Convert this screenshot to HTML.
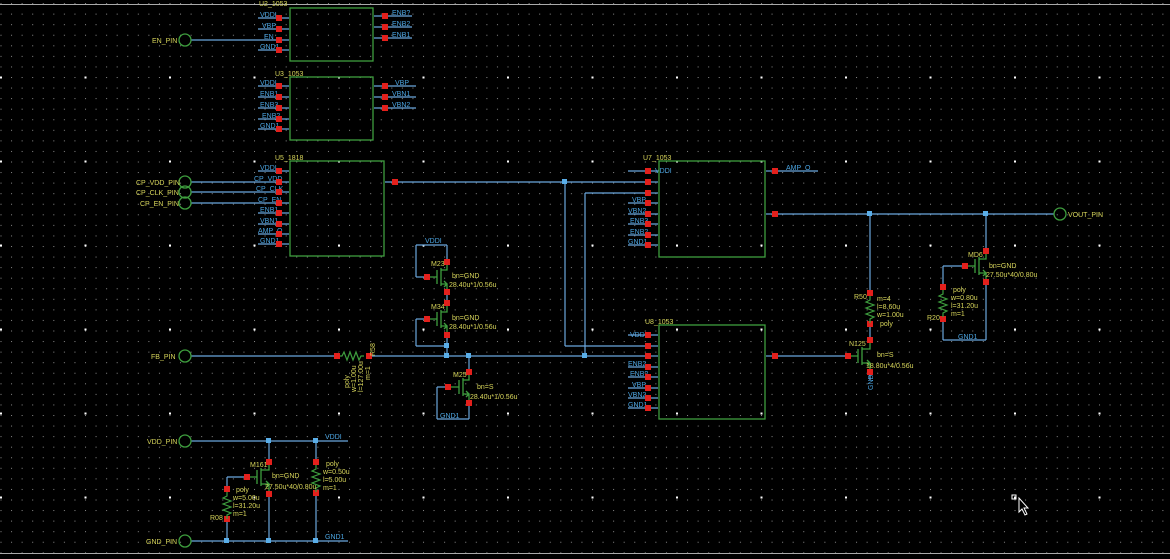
<!DOCTYPE html>
<html><head><meta charset="utf-8"><style>
html,body{margin:0;padding:0;background:#000;}
svg{display:block;}
text{font-family:"Liberation Sans",sans-serif;font-size:7px;}
.y{fill:#d6d45a;}
.b{fill:#4aa3df;}
.w{stroke:#6aa6dc;stroke-width:1.2;fill:none;}
.g{stroke:#3e9e3e;stroke-width:1.3;fill:none;}
.r{fill:#e3201c;}
.j{fill:#5aaee8;}
</style></head><body>
<svg width="1170" height="559" viewBox="0 0 1170 559" xmlns="http://www.w3.org/2000/svg">
<defs>
<pattern id="sd" x="85" y="77" width="10.5625" height="10.5625" patternUnits="userSpaceOnUse"><rect x="0" y="0" width="1" height="1" fill="#8a8a8a"/></pattern>
<pattern id="bd" x="84.5" y="76.5" width="84.5" height="84" patternUnits="userSpaceOnUse"><rect x="0" y="0" width="2" height="2" fill="#fff"/></pattern>
<g id="res"><path d="M0,0 l0,4 l-4,2 l8,3 l-8,3 l8,3 l-8,3 l8,3 l-4,2 l0,4" stroke="#3e9e3e" stroke-width="1.2" fill="none"/></g>
</defs>
<rect width="1170" height="559" fill="#000"/>
<rect width="1170" height="559" fill="url(#sd)"/>
<rect width="1170" height="559" fill="url(#bd)"/>
<line x1="0" y1="4.5" x2="1170" y2="4.5" stroke="#aaa" stroke-width="1"/>
<line x1="0" y1="553.5" x2="1170" y2="553.5" stroke="#aaa" stroke-width="1"/>

<!-- U? top -->
<rect x="290" y="8" width="83" height="53" class="g"/>
<text x="259" y="6" class="y">U2_1053</text>
<g class="w"><line x1="258" y1="18" x2="289" y2="18"/><line x1="258" y1="29" x2="289" y2="29"/><line x1="191" y1="40" x2="289" y2="40"/><line x1="258" y1="50" x2="289" y2="50"/>
<line x1="374" y1="16" x2="412" y2="16"/><line x1="374" y1="27" x2="412" y2="27"/><line x1="374" y1="38" x2="412" y2="38"/></g>
<g class="b"><text x="260" y="17">VDDI</text><text x="262" y="28">VBP</text><text x="264" y="39">EN</text><text x="260" y="49">GND1</text>
<text x="392" y="15">ENB?</text><text x="392" y="26">ENB2</text><text x="392" y="37">ENB1</text></g>
<g class="r"><rect x="276" y="15" width="6" height="6"/><rect x="276" y="26" width="6" height="6"/><rect x="276" y="37" width="6" height="6"/><rect x="276" y="47" width="6" height="6"/>
<rect x="382" y="13" width="6" height="6"/><rect x="382" y="24" width="6" height="6"/><rect x="382" y="35" width="6" height="6"/></g>
<circle cx="185" cy="40" r="6" stroke="#3e9e3e" stroke-width="1.3" fill="none"/>
<text x="152" y="43" class="y">EN_PIN</text>

<!-- U3 -->
<rect x="290" y="77" width="83" height="63" class="g"/>
<text x="275" y="76" class="y">U3_1053</text>
<g class="w"><line x1="258" y1="86" x2="289" y2="86"/><line x1="258" y1="97" x2="289" y2="97"/><line x1="258" y1="108" x2="289" y2="108"/><line x1="258" y1="119" x2="289" y2="119"/><line x1="258" y1="129" x2="289" y2="129"/>
<line x1="374" y1="86" x2="416" y2="86"/><line x1="374" y1="97" x2="416" y2="97"/><line x1="374" y1="108" x2="416" y2="108"/></g>
<g class="b"><text x="260" y="85">VDDI</text><text x="260" y="96">ENB1</text><text x="260" y="107">ENB3</text><text x="262" y="118">ENB2</text><text x="260" y="128">GND1</text>
<text x="395" y="85">VBP</text><text x="392" y="96">VBN1</text><text x="392" y="107">VBN2</text></g>
<g class="r"><rect x="276" y="83" width="6" height="6"/><rect x="276" y="94" width="6" height="6"/><rect x="276" y="105" width="6" height="6"/><rect x="276" y="116" width="6" height="6"/><rect x="276" y="126" width="6" height="6"/>
<rect x="382" y="83" width="6" height="6"/><rect x="382" y="94" width="6" height="6"/><rect x="382" y="105" width="6" height="6"/></g>

<!-- U5 -->
<rect x="290" y="161" width="94" height="95" class="g"/>
<text x="275" y="160" class="y">U5_1818</text>
<g class="w"><line x1="258" y1="171" x2="289" y2="171"/><line x1="191" y1="182" x2="289" y2="182"/><line x1="191" y1="192" x2="289" y2="192"/><line x1="191" y1="203" x2="289" y2="203"/><line x1="258" y1="213" x2="289" y2="213"/><line x1="258" y1="224" x2="289" y2="224"/><line x1="258" y1="234" x2="289" y2="234"/><line x1="258" y1="244" x2="289" y2="244"/></g>
<g class="b"><text x="260" y="170">VDDI</text><text x="254" y="181">CP_VDD</text><text x="256" y="191">CP_CLK</text><text x="258" y="202">CP_EN</text><text x="260" y="212">ENB1</text><text x="260" y="223">VBN1</text><text x="258" y="233">AMP_O</text><text x="260" y="243">GND1</text></g>
<g class="r"><rect x="276" y="168" width="6" height="6"/><rect x="276" y="179" width="6" height="6"/><rect x="276" y="189" width="6" height="6"/><rect x="276" y="200" width="6" height="6"/><rect x="276" y="210" width="6" height="6"/><rect x="276" y="221" width="6" height="6"/><rect x="276" y="231" width="6" height="6"/><rect x="276" y="241" width="6" height="6"/></g>
<g stroke="#3e9e3e" stroke-width="1.3" fill="none"><circle cx="185" cy="182" r="6"/><circle cx="185" cy="192" r="6"/><circle cx="185" cy="203" r="6"/></g>
<g class="y"><text x="136" y="185">CP_VDD_PIN</text><text x="136" y="195">CP_CLK_PIN</text><text x="140" y="206">CP_EN_PIN</text></g>

<!-- main wires -->
<g class="w">
<line x1="385" y1="182" x2="648" y2="182"/>
<line x1="565" y1="182" x2="565" y2="346"/><line x1="565" y1="346" x2="648" y2="346"/>
<line x1="585" y1="193" x2="648" y2="193"/><line x1="585" y1="193" x2="585" y2="356"/>
<line x1="191" y1="356" x2="648" y2="356"/>
<line x1="775" y1="214" x2="1054" y2="214"/>
<line x1="775" y1="171" x2="818" y2="171"/>
<line x1="775" y1="356" x2="848" y2="356"/>
<line x1="870" y1="214" x2="870" y2="293"/><line x1="870" y1="324" x2="870" y2="340"/><line x1="870" y1="372" x2="870" y2="380"/>
<line x1="986" y1="214" x2="986" y2="251"/><line x1="986" y1="282" x2="986" y2="340"/><line x1="986" y1="340" x2="943" y2="340"/><line x1="943" y1="340" x2="943" y2="319"/><line x1="943" y1="287" x2="943" y2="266"/><line x1="943" y1="266" x2="965" y2="266"/>
<!-- M23/M34 -->
<line x1="416" y1="245" x2="447" y2="245"/><line x1="447" y1="245" x2="447" y2="262"/><line x1="416" y1="245" x2="416" y2="277"/><line x1="416" y1="277" x2="427" y2="277"/>
<line x1="447" y1="292" x2="447" y2="303"/>
<line x1="416" y1="319" x2="427" y2="319"/><line x1="416" y1="319" x2="416" y2="346"/><line x1="416" y1="346" x2="447" y2="346"/><line x1="447" y1="335" x2="447" y2="356"/>
<line x1="469" y1="356" x2="469" y2="372"/><line x1="469" y1="403" x2="469" y2="419"/><line x1="437" y1="419" x2="469" y2="419"/><line x1="437" y1="387" x2="437" y2="419"/><line x1="437" y1="387" x2="448" y2="387"/>
<!-- bottom -->
<line x1="191" y1="441" x2="348" y2="441"/><line x1="191" y1="541" x2="348" y2="541"/>
<line x1="269" y1="441" x2="269" y2="462"/><line x1="269" y1="494" x2="269" y2="541"/>
<line x1="316" y1="441" x2="316" y2="462"/><line x1="316" y1="493" x2="316" y2="541"/>
<line x1="227" y1="477" x2="247" y2="477"/><line x1="227" y1="477" x2="227" y2="489"/><line x1="227" y1="519" x2="227" y2="541"/>
</g>
<g class="b"><text x="425" y="243">VDDI</text><text x="440" y="418">GND1</text><text x="958" y="339">GND1</text><text x="325" y="439">VDDI</text><text x="325" y="539">GND1</text><text x="655" y="173">VDDI</text><text x="630" y="337">VDDI</text>
<text transform="translate(873,390) rotate(-90)">GND1</text></g>

<!-- U7 -->
<rect x="659" y="161" width="106" height="96" class="g"/>
<text x="643" y="160" class="y">U7_1053</text>
<g class="w"><line x1="628" y1="171" x2="658" y2="171"/><line x1="628" y1="203" x2="658" y2="203"/><line x1="628" y1="214" x2="658" y2="214"/><line x1="628" y1="224" x2="658" y2="224"/><line x1="628" y1="235" x2="658" y2="235"/><line x1="628" y1="245" x2="658" y2="245"/><line x1="648" y1="182" x2="658" y2="182"/><line x1="648" y1="193" x2="658" y2="193"/><line x1="766" y1="171" x2="775" y2="171"/><line x1="766" y1="214" x2="775" y2="214"/></g>
<g class="b"><text x="632" y="202">VBP</text><text x="628" y="213">VBN2</text><text x="630" y="223">ENB3</text><text x="630" y="234">ENB2</text><text x="628" y="244">GND1</text><text x="786" y="170">AMP_O</text></g>
<g class="r"><rect x="645" y="168" width="6" height="6"/><rect x="645" y="179" width="6" height="6"/><rect x="645" y="190" width="6" height="6"/><rect x="645" y="200" width="6" height="6"/><rect x="645" y="211" width="6" height="6"/><rect x="645" y="221" width="6" height="6"/><rect x="645" y="232" width="6" height="6"/><rect x="645" y="242" width="6" height="6"/><rect x="772" y="168" width="6" height="6"/><rect x="772" y="211" width="6" height="6"/><rect x="392" y="179" width="6" height="6"/></g>

<!-- U8 -->
<rect x="659" y="325" width="106" height="94" class="g"/>
<text x="645" y="324" class="y">U8_1053</text>
<g class="w"><line x1="628" y1="335" x2="658" y2="335"/><line x1="628" y1="367" x2="658" y2="367"/><line x1="628" y1="377" x2="658" y2="377"/><line x1="628" y1="388" x2="658" y2="388"/><line x1="628" y1="398" x2="658" y2="398"/><line x1="628" y1="408" x2="658" y2="408"/><line x1="648" y1="346" x2="658" y2="346"/><line x1="648" y1="356" x2="658" y2="356"/><line x1="766" y1="356" x2="775" y2="356"/></g>
<g class="b"><text x="628" y="366">ENB2</text><text x="630" y="376">ENB?</text><text x="632" y="387">VBP</text><text x="628" y="397">VBN2</text><text x="628" y="407">GND1</text></g>
<g class="r"><rect x="645" y="332" width="6" height="6"/><rect x="645" y="343" width="6" height="6"/><rect x="645" y="353" width="6" height="6"/><rect x="645" y="364" width="6" height="6"/><rect x="645" y="374" width="6" height="6"/><rect x="645" y="385" width="6" height="6"/><rect x="645" y="395" width="6" height="6"/><rect x="645" y="405" width="6" height="6"/><rect x="772" y="353" width="6" height="6"/></g>

<!-- FB -->
<circle cx="185" cy="356" r="6" stroke="#3e9e3e" stroke-width="1.3" fill="none"/>
<text x="151" y="359" class="y">FB_PIN</text>
<rect x="339" y="352" width="28" height="8" fill="#000"/>
<path d="M339,356 l3,0 l2,-4 l3,8 l3,-8 l3,8 l3,-8 l3,8 l2,-4 l3,0" stroke="#3e9e3e" stroke-width="1.2" fill="none"/>
<g class="r"><rect x="334" y="353" width="6" height="6"/><rect x="366" y="353" width="6" height="6"/></g>
<g class="y" style="font-size:6px"><text transform="translate(375,356) rotate(-90)">R58</text><text transform="translate(349,388) rotate(-90)">poly</text><text transform="translate(356,392) rotate(-90)">w=1.00u</text><text transform="translate(363,392) rotate(-90)">l=127.00u</text><text transform="translate(370,380) rotate(-90)">m=1</text></g>

<!-- transistor template drawn per instance -->
<g stroke="#3e9e3e" stroke-width="1.3" fill="none">
<!-- M23 -->
<path d="M437,270 v14 M441,268 v18 M441,270 h6 v-8 M441,284 h6 v8 M430,277 h7 M443,284 l4,0 m-3,-3 l3,3 l-3,3"/>
<!-- M34 -->
<path d="M437,312 v14 M441,310 v18 M441,312 h6 v-9 M441,326 h6 v9 M430,319 h7 M443,326 l4,0 m-3,-3 l3,3 l-3,3"/>
<!-- M25 -->
<path d="M459,380 v14 M463,378 v18 M463,380 h6 v-8 M463,394 h6 v9 M451,387 h8 M465,394 l4,0 m-3,-3 l3,3 l-3,3"/>
<!-- N125 -->
<path d="M858,349 v14 M862,347 v18 M862,349 h8 v-9 M862,363 h8 v9 M851,356 h7 M866,363 l4,0 m-3,-3 l3,3 l-3,3"/>
<!-- MD6 -->
<path d="M975,259 v14 M979,257 v18 M979,259 h7 v-8 M979,273 h7 v9 M968,266 h7 M982,273 l4,0 m-3,-3 l3,3 l-3,3"/>
<!-- M161 -->
<path d="M257,470 v14 M261,468 v18 M261,470 h8 v-8 M261,484 h8 v10 M250,477 h7 M265,484 l4,0 m-3,-3 l3,3 l-3,3"/>
</g>
<g class="r">
<rect x="444" y="259" width="6" height="6"/><rect x="424" y="274" width="6" height="6"/><rect x="444" y="289" width="6" height="6"/>
<rect x="444" y="300" width="6" height="6"/><rect x="424" y="316" width="6" height="6"/><rect x="444" y="332" width="6" height="6"/>
<rect x="466" y="369" width="6" height="6"/><rect x="445" y="384" width="6" height="6"/><rect x="466" y="400" width="6" height="6"/>
<rect x="867" y="337" width="6" height="6"/><rect x="845" y="353" width="6" height="6"/><rect x="867" y="369" width="6" height="6"/>
<rect x="983" y="248" width="6" height="6"/><rect x="962" y="263" width="6" height="6"/><rect x="983" y="279" width="6" height="6"/>
<rect x="266" y="459" width="6" height="6"/><rect x="244" y="474" width="6" height="6"/><rect x="266" y="491" width="6" height="6"/>
<rect x="867" y="290" width="6" height="6"/><rect x="867" y="321" width="6" height="6"/>
<rect x="940" y="284" width="6" height="6"/><rect x="940" y="316" width="6" height="6"/>
<rect x="224" y="486" width="6" height="6"/><rect x="224" y="516" width="6" height="6"/>
<rect x="313" y="459" width="6" height="6"/><rect x="313" y="490" width="6" height="6"/>
</g>
<use href="#res" x="870" y="296"/>
<use href="#res" x="943" y="290"/>
<use href="#res" x="227" y="492"/>
<use href="#res" x="316" y="465"/>

<g class="j">
<rect x="562" y="179" width="5" height="5"/><rect x="582" y="353" width="5" height="5"/><rect x="444" y="353" width="5" height="5"/><rect x="466" y="353" width="5" height="5"/><rect x="444" y="343" width="5" height="5"/>
<rect x="867" y="211" width="5" height="5"/><rect x="983" y="211" width="5" height="5"/>
<rect x="266" y="438" width="5" height="5"/><rect x="313" y="438" width="5" height="5"/><rect x="224" y="538" width="5" height="5"/><rect x="266" y="538" width="5" height="5"/><rect x="313" y="538" width="5" height="5"/>
</g>

<g class="y">
<text x="431" y="266">M23</text><text x="452" y="278">bn=GND</text><text x="449" y="287">28.40u*1/0.56u</text>
<text x="431" y="309">M34</text><text x="452" y="320">bn=GND</text><text x="449" y="329">28.40u*1/0.56u</text>
<text x="453" y="377">M25</text><text x="477" y="389">bn=S</text><text x="470" y="399">28.40u*1/0.56u</text>
<text x="849" y="346">N125</text><text x="877" y="357">bn=S</text><text x="866" y="368">18.80u*4/0.56u</text>
<text x="854" y="299">R50</text><text x="877" y="301">m=4</text><text x="877" y="309">l=8.60u</text><text x="877" y="317">w=1.00u</text><text x="880" y="326">poly</text>
<text x="968" y="257">MD6</text><text x="989" y="268">bn=GND</text><text x="986" y="277">27.50u*40/0.80u</text>
<text x="953" y="292">poly</text><text x="951" y="300">w=0.80u</text><text x="951" y="308">l=31.20u</text><text x="951" y="316">m=1</text><text x="927" y="320">R20</text>
<text x="250" y="467">M161</text><text x="272" y="478">bn=GND</text><text x="265" y="489">27.50u*40/0.80u</text>
<text x="236" y="492">poly</text><text x="233" y="500">w=5.00u</text><text x="233" y="508">l=31.20u</text><text x="233" y="516">m=1</text><text x="210" y="520">R08</text>
<text x="326" y="466">poly</text><text x="323" y="474">w=0.50u</text><text x="323" y="482">l=5.00u</text><text x="323" y="490">m=1</text>
<text x="147" y="444">VDD_PIN</text><text x="146" y="544">GND_PIN</text>
<text x="1068" y="217">VOUT_PIN</text>
</g>
<g stroke="#3e9e3e" stroke-width="1.3" fill="none"><circle cx="185" cy="441" r="6"/><circle cx="185" cy="541" r="6"/><circle cx="1060" cy="214" r="6"/></g>

<!-- cursor -->
<rect x="1012" y="495" width="4" height="4" fill="none" stroke="#fff" stroke-width="1"/>
<path d="M1019,498 l0,14 l3,-3 l3,6 l2,-1 l-3,-6 l4,0 z" fill="#000" stroke="#fff" stroke-width="1"/>
</svg>
</body></html>
